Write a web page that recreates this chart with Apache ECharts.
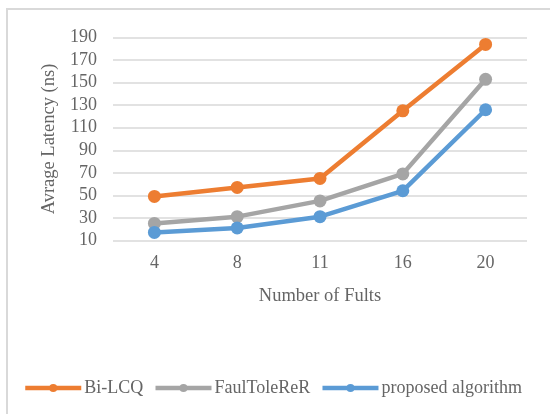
<!DOCTYPE html>
<html>
<head>
<meta charset="utf-8">
<script src="https://cdn.jsdelivr.net/npm/echarts@6/dist/echarts.min.js"></script>
<style>
  html, body { margin: 0; padding: 0; background: #fff; }
  #main { width: 550px; height: 414px; }
</style>
</head>
<body>
<div id="main"></div>
<script>
var faults = ['4', '8', '11', '16', '20'];
var biLcq = [49, 57, 65, 125, 184];
var faulTolerer = [25, 31, 45, 69, 153];
var proposed = [17, 21, 31, 54, 126];

var font = '"Liberation Serif", "Times New Roman", serif';
var textColor = '#656565';

function lineSeries(name, data, color) {
    return {
        name: name,
        type: 'line',
        data: data,
        symbol: 'circle',
        symbolSize: 13,
        lineStyle: { width: 4.5, color: color },
        itemStyle: { color: color },
        z: 3
    };
}

var myChart = echarts.init(document.getElementById('main'));
var option = {
    animation: false,
    backgroundColor: '#fff',
    graphic: [{
        type: 'rect',
        shape: { x: 7, y: 9, width: 600, height: 500 },
        style: { fill: 'none', stroke: '#d9d9d9', lineWidth: 2 },
        silent: true
    }],
    grid: { left: 113, right: 23, top: 37.7, bottom: 173.7 },
    legend: {
        left: 18,
        top: 374,
        itemWidth: 56,
        itemHeight: 10,
        itemGap: 10,
        lineStyle: { width: 4.5 },
        textStyle: { fontFamily: font, fontSize: 18, color: textColor, padding: [0, 0, 0, -2] },
        data: ['Bi-LCQ', 'FaulToleReR', 'proposed algorithm']
    },
    xAxis: {
        type: 'category',
        data: faults,
        boundaryGap: true,
        name: 'Number of Fults',
        nameLocation: 'middle',
        nameGap: 46,
        nameTextStyle: { fontFamily: font, fontSize: 18.5, color: textColor },
        axisLine: { show: false },
        axisTick: { show: false },
        axisLabel: { fontFamily: font, fontSize: 18, color: textColor, margin: 14 }
    },
    yAxis: {
        type: 'value',
        min: 10,
        max: 190,
        interval: 20,
        name: 'Avrage Latency (ns)',
        nameLocation: 'middle',
        nameGap: 48,
        nameTextStyle: { fontFamily: font, fontSize: 18.5, color: textColor },
        axisLine: { show: false },
        axisTick: { show: false },
        axisLabel: { fontFamily: font, fontSize: 18, color: textColor, margin: 16 },
        splitLine: { lineStyle: { color: '#d9d9d9', width: 1.5 } }
    },
    series: [
        lineSeries('Bi-LCQ', biLcq, '#ED7D31'),
        lineSeries('FaulToleReR', faulTolerer, '#A5A5A5'),
        lineSeries('proposed algorithm', proposed, '#5B9BD5')
    ]
};
myChart.setOption(option);
</script>
</body>
</html>
